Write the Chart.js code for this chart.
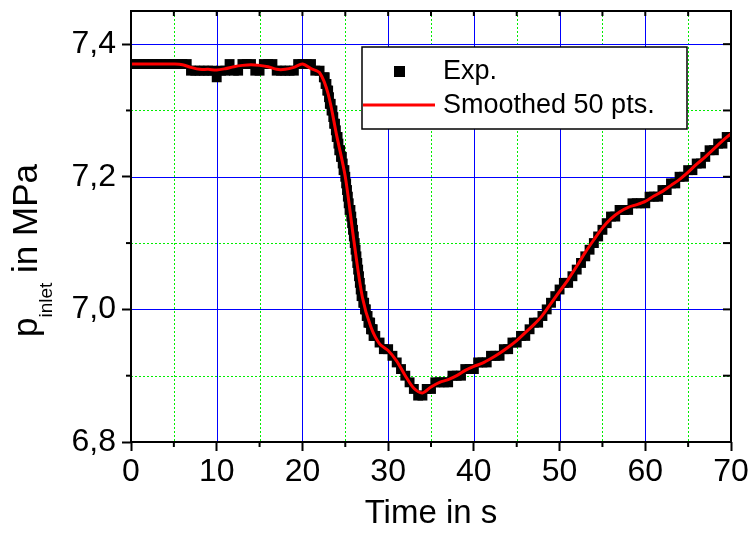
<!DOCTYPE html>
<html>
<head>
<meta charset="utf-8">
<script src="https://cdn.jsdelivr.net/npm/chart.js@4"></script>
<style>
  body { margin: 0; background: #fff; }
  #myChart { display: block; }
</style>
</head>
<body>
<canvas id="myChart" width="752" height="534"></canvas>
<script>
// measured pressure (MPa); 0.5 s apart, 0.1 s apart through the steep drop
var expTime = [
  0, 0.5, 1, 1.5, 2, 2.5, 3, 3.5, 4, 4.5, 5, 5.5, 6, 6.5, 7, 7.5, 8, 8.5, 9, 9.5,
  10, 10.5, 11, 11.5, 12, 12.5, 13, 13.5, 14, 14.5, 15, 15.5, 16, 16.5, 17, 17.5, 18, 18.5, 19, 19.5,
  20, 20.5, 21, 21.5, 22,
  22.5, 22.6, 22.7, 22.8, 22.9, 23, 23.1, 23.2, 23.3, 23.4, 23.5, 23.6, 23.7, 23.8, 23.9,
  24, 24.1, 24.2, 24.3, 24.4, 24.5, 24.6, 24.7, 24.8, 24.9, 25, 25.1, 25.2, 25.3, 25.4, 25.5, 25.6, 25.7, 25.8, 25.9,
  26, 26.1, 26.2, 26.3, 26.4, 26.5, 26.6, 26.7, 26.8, 26.9, 27, 27.1, 27.2, 27.3, 27.4, 27.5, 27.6, 27.7, 27.8, 27.9,
  28, 28.1, 28.2, 28.3, 28.4, 28.5, 29, 29.5,
  30, 30.5, 31, 31.5, 32, 32.5, 33, 33.5, 34, 34.5, 35, 35.5, 36, 36.5, 37, 37.5, 38, 38.5, 39, 39.5,
  40, 40.5, 41, 41.5, 42, 42.5, 43, 43.5, 44, 44.5, 45, 45.5, 46, 46.5, 47, 47.5, 48, 48.5, 49, 49.5,
  50, 50.5, 51, 51.5, 52, 52.5, 53, 53.5, 54, 54.5, 55, 55.5, 56, 56.5, 57, 57.5, 58, 58.5, 59, 59.5,
  60, 60.5, 61, 61.5, 62, 62.5, 63, 63.5, 64, 64.5, 65, 65.5, 66, 66.5, 67, 67.5, 68, 68.5, 69, 69.5,
  70
];
var expPressure = [
  7.37, 7.37, 7.37, 7.37, 7.37, 7.37, 7.37, 7.37, 7.37, 7.37, 7.37, 7.37, 7.37, 7.37, 7.36, 7.36, 7.36, 7.36, 7.36, 7.36,
  7.35, 7.36, 7.36, 7.37, 7.36, 7.36, 7.37, 7.37, 7.37, 7.36, 7.36, 7.37, 7.37, 7.37, 7.36, 7.36, 7.36, 7.36, 7.36, 7.37,
  7.37, 7.37, 7.37, 7.36, 7.36,
  7.35, 7.35, 7.34, 7.34, 7.33, 7.33, 7.32, 7.31, 7.31, 7.30, 7.30, 7.29, 7.28, 7.28, 7.27,
  7.26, 7.26, 7.25, 7.24, 7.24, 7.23, 7.23, 7.22, 7.21, 7.21, 7.20, 7.19, 7.18, 7.17, 7.16, 7.15, 7.15, 7.14, 7.13, 7.12,
  7.11, 7.10, 7.09, 7.08, 7.07, 7.06, 7.05, 7.04, 7.03, 7.02, 7.02, 7.01, 7.01, 7.00, 7.00, 6.99, 6.99, 6.98, 6.98, 6.98,
  6.97, 6.97, 6.97, 6.96, 6.96, 6.96, 6.95, 6.94,
  6.94, 6.93, 6.92, 6.91, 6.90, 6.89, 6.88, 6.87, 6.87, 6.88, 6.88, 6.89, 6.89, 6.89, 6.89, 6.90, 6.90, 6.90, 6.91, 6.91,
  6.91, 6.92, 6.92, 6.92, 6.93, 6.93, 6.93, 6.94, 6.94, 6.95, 6.95, 6.96, 6.96, 6.97, 6.98, 6.98, 6.99, 7.00, 7.01, 7.02,
  7.03, 7.04, 7.04, 7.05, 7.06, 7.07, 7.08, 7.09, 7.10, 7.11, 7.12, 7.13, 7.14, 7.14, 7.15, 7.15, 7.15, 7.16, 7.16, 7.16,
  7.16, 7.17, 7.17, 7.17, 7.18, 7.18, 7.19, 7.19, 7.20, 7.20, 7.21, 7.21, 7.22, 7.22, 7.23, 7.24, 7.24, 7.25, 7.25, 7.26,
  7.26
];

// smoothed curve, one value per second from 0 to 70 s
var smoothStep = 1;
var smoothValues = [
  7.370, 7.370, 7.370, 7.370, 7.370, 7.370, 7.369, 7.365, 7.362, 7.362,
  7.361, 7.363, 7.366, 7.368, 7.369, 7.368, 7.366, 7.362, 7.362, 7.365,
  7.370, 7.363, 7.357, 7.325, 7.262, 7.200, 7.104, 7.018, 6.973, 6.948,
  6.938, 6.922, 6.900, 6.881, 6.874, 6.883, 6.890, 6.894, 6.900, 6.908,
  6.914, 6.919, 6.926, 6.934, 6.943, 6.953, 6.965, 6.977, 6.991, 7.009,
  7.027, 7.045, 7.065, 7.086, 7.105, 7.123, 7.137, 7.147, 7.154, 7.158,
  7.163, 7.171, 7.178, 7.187, 7.196, 7.207, 7.219, 7.230, 7.242, 7.254,
  7.265
];

var xTicks = [0, 10, 20, 30, 40, 50, 60, 70];
var xMinor = [5, 15, 25, 35, 45, 55, 65];
var yTicks = [6.8, 7.0, 7.2, 7.4];
var yMinor = [6.9, 7.1, 7.3];
var legendLabels = ['Exp.', 'Smoothed 50 pts.'];

var FONT = "'Liberation Sans', Arial, sans-serif";
Chart.defaults.font.family = FONT;
Chart.defaults.color = '#000';

var expPoints = expPressure.map(function (v, i) { return { x: expTime[i], y: v }; });
var smoothPoints = smoothValues.map(function (v, i) { return { x: i * smoothStep, y: v }; });

function line(ctx, x1, y1, x2, y2) {
  ctx.beginPath();
  ctx.moveTo(x1, y1);
  ctx.lineTo(x2, y2);
  ctx.stroke();
}

// grid lines under the data
var gridPlugin = {
  id: 'grid',
  beforeDatasetsDraw: function (chart) {
    var ctx = chart.ctx, a = chart.chartArea;
    var xs = chart.scales.x, ys = chart.scales.y;
    ctx.save();
    ctx.lineWidth = 1;
    ctx.strokeStyle = '#00ee00';
    ctx.setLineDash([2, 2]);
    xMinor.forEach(function (v) {
      var px = Math.round(xs.getPixelForValue(v)) + 0.5;
      line(ctx, px, a.top, px, a.bottom);
    });
    yMinor.forEach(function (v) {
      var py = Math.round(ys.getPixelForValue(v)) + 0.5;
      line(ctx, a.left, py, a.right, py);
    });
    ctx.setLineDash([]);
    ctx.strokeStyle = '#0000ff';
    xTicks.slice(1, -1).forEach(function (v) {
      var px = Math.round(xs.getPixelForValue(v)) + 0.5;
      line(ctx, px, a.top, px, a.bottom);
    });
    yTicks.slice(1).forEach(function (v) {
      var py = Math.round(ys.getPixelForValue(v)) + 0.5;
      line(ctx, a.left, py, a.right, py);
    });
    ctx.restore();
  }
};

// frame, minor/mirror ticks, y title and legend on top
var framePlugin = {
  id: 'frame',
  afterDatasetsDraw: function (chart) {
    var ctx = chart.ctx, a = chart.chartArea;
    var xs = chart.scales.x, ys = chart.scales.y;
    ctx.save();
    ctx.strokeStyle = '#000';
    ctx.lineWidth = 2;
    ctx.strokeRect(a.left, a.top, a.right - a.left, a.bottom - a.top);

    // minor ticks outside on left / bottom
    xMinor.forEach(function (v) {
      var px = xs.getPixelForValue(v);
      line(ctx, px, a.bottom, px, a.bottom + 5);
    });
    yMinor.forEach(function (v) {
      var py = ys.getPixelForValue(v);
      line(ctx, a.left - 5, py, a.left, py);
    });
    // mirrored ticks inside on top / right
    xTicks.concat(xMinor).forEach(function (v) {
      var px = xs.getPixelForValue(v);
      line(ctx, px, a.top, px, a.top + 5);
    });
    yTicks.concat(yMinor).forEach(function (v) {
      var py = ys.getPixelForValue(v);
      line(ctx, a.right - 8, py, a.right, py);
    });

    // legend
    var lx = 362, ly = 47, lw = 325, lh = 82;
    ctx.fillStyle = '#fff';
    ctx.fillRect(lx, ly, lw, lh);
    ctx.lineWidth = 1.5;
    ctx.strokeStyle = '#000';
    ctx.strokeRect(lx, ly, lw, lh);
    ctx.fillStyle = '#000';
    ctx.fillRect(394, 66, 11, 11);
    ctx.strokeStyle = '#ff0000';
    ctx.lineWidth = 3;
    line(ctx, 363, 105, 435, 105);
    ctx.fillStyle = '#000';
    ctx.font = '27px ' + FONT;
    ctx.textAlign = 'left';
    ctx.textBaseline = 'middle';
    ctx.fillText(legendLabels[0], 443, 72);
    ctx.fillText(legendLabels[1], 443, 106);

    // y axis title with subscript
    ctx.translate(37, 337);
    ctx.rotate(-Math.PI / 2);
    ctx.textBaseline = 'alphabetic';
    ctx.font = '35px ' + FONT;
    ctx.fillText('p', 0, 0);
    var w = ctx.measureText('p').width;
    ctx.font = '19px ' + FONT;
    ctx.fillText('inlet', w, 15);
    w += ctx.measureText('inlet').width;
    ctx.font = '35px ' + FONT;
    ctx.fillText(' in MPa', w, 0);
    ctx.restore();
  }
};

var ctx = document.getElementById('myChart').getContext('2d');
var myChart = new Chart(ctx, {
  type: 'scatter',
  data: {
    datasets: [{
      label: legendLabels[1],
      data: smoothPoints,
      showLine: true,
      borderColor: '#ff0000',
      borderWidth: 3,
      pointRadius: 0,
      tension: 0.3,
      order: 0
    }, {
      label: legendLabels[0],
      data: expPoints,
      pointStyle: 'rect',
      pointRadius: 7,
      borderWidth: 0,
      backgroundColor: '#000',
      order: 1
    }]
  },
  options: {
    responsive: false,
    animation: false,
    layout: { padding: { top: 11, right: 21, left: 0, bottom: 0 } },
    plugins: { legend: { display: false }, tooltip: { enabled: false } },
    scales: {
      x: {
        type: 'linear',
        min: 0,
        max: 70,
        afterBuildTicks: function (s) { s.ticks = xTicks.map(function (v) { return { value: v }; }); },
        afterFit: function (s) { s.height = 92; s.paddingLeft = 0; s.paddingRight = 0; },
        ticks: { font: { size: 32 }, padding: 2, maxRotation: 0 },
        grid: { drawOnChartArea: false, tickLength: 9, tickWidth: 2, tickColor: '#000' },
        border: { display: false },
        title: { display: true, text: 'Time in s', font: { size: 33 }, padding: { top: 0, bottom: 0 } }
      },
      y: {
        min: 6.8,
        max: 7.45,
        afterBuildTicks: function (s) { s.ticks = yTicks.map(function (v) { return { value: v }; }); },
        afterFit: function (s) { s.width = 131; s.paddingTop = 0; s.paddingBottom = 0; },
        ticks: {
          font: { size: 32 },
          padding: 6,
          callback: function (v) { return v.toFixed(1).replace('.', ','); }
        },
        grid: { drawOnChartArea: false, tickLength: 9, tickWidth: 2, tickColor: '#000' },
        border: { display: false }
      }
    }
  },
  plugins: [gridPlugin, framePlugin]
});
</script>
</body>
</html>
